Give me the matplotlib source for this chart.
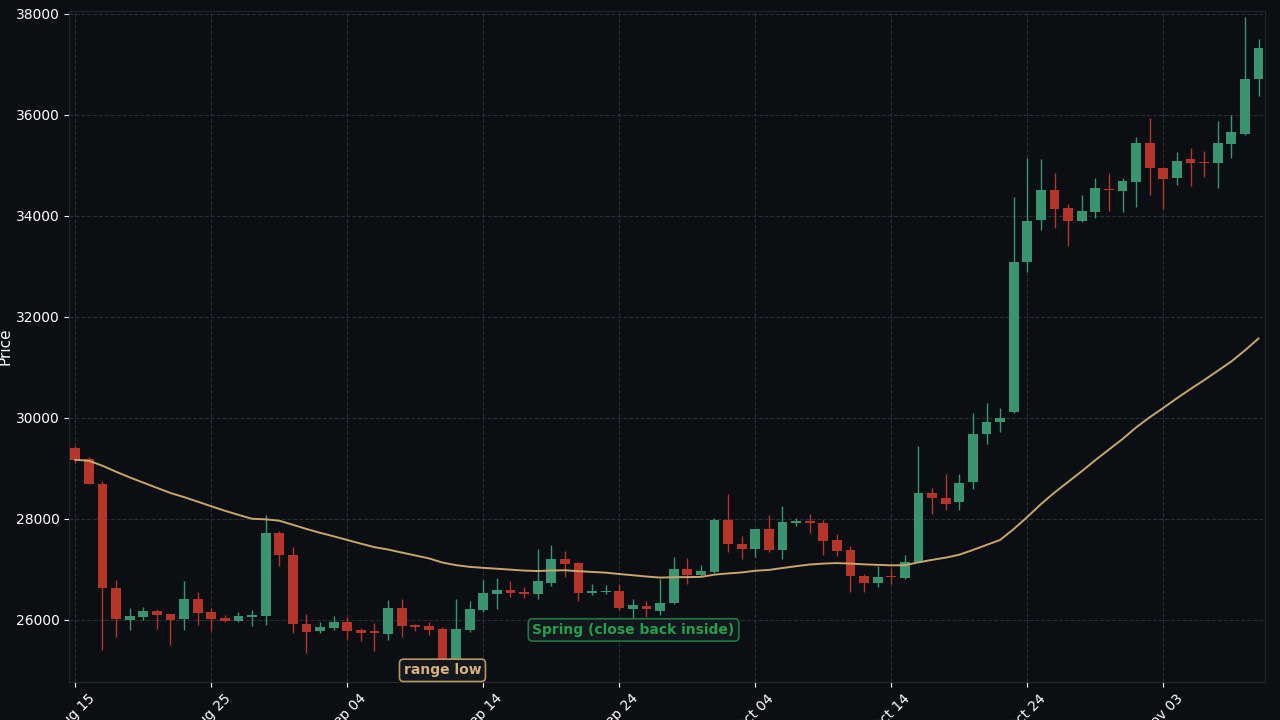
import matplotlib
matplotlib.use("Agg")
import matplotlib.pyplot as plt
import matplotlib.dates as mdates
import pandas as pd
import numpy as np

dates = pd.date_range("2023-08-15", periods=88, freq="D")
opens = [29406,29188,28693,26634,26000,26060,26180,26120,26020,26420,26160,26040,25980,26060,26080,27720,27290,25920,25780,25840,
         25960,25800,25780,25720,26240,25900,25880,25820,25100,25800,26200,26520,26600,26560,26520,26730,27210,27130,26540,26560,
         26580,26220,26280,26180,26340,27010,26890,26950,27980,27500,27410,27800,27390,27920,27960,27920,27580,27390,26870,26730,
         26860,26830,27150,28510,28410,28330,28720,29680,29910,30120,33080,33910,34510,34160,33900,34080,34530,34500,34670,35450,
         34940,34740,35120,35060,35050,35420,35620,36700]
closes = [29168,28693,26634,26020,26080,26180,26100,26000,26420,26140,26020,25980,26080,26100,27720,27290,25920,25760,25860,25960,
          25780,25740,25740,26240,25880,25860,25800,25100,25820,26220,26540,26600,26540,26520,26760,27210,27110,26530,26580,26580,
          26240,26300,26220,26340,27010,26890,26970,27980,27500,27410,27800,27390,27940,27960,27910,27560,27370,26860,26730,26850,
          26840,27150,28510,28410,28300,28710,29680,29920,30000,33090,33900,34510,34140,33900,34100,34550,34510,34680,35450,34940,
          34720,35090,35050,35040,35450,35660,36710,37320]
highs = [29450,29228,28752,26792,26240,26260,26220,26120,26770,26550,26240,26100,26160,26200,28080,27760,27440,26120,25960,26080,
         26060,25840,25940,26400,26420,25920,25960,25860,26420,26380,26780,26830,26760,26640,27400,27490,27370,27150,26710,26690,
         26710,26420,26380,26810,27250,27230,27090,28020,28500,27660,27800,28080,28260,28020,28100,27980,27700,27470,26910,27070,
         27030,27290,29450,28610,28890,28890,30100,30290,30190,34370,35150,35130,34840,34240,34420,34750,34840,34750,35550,35930,
         34940,35260,35350,35290,35880,35990,37930,37500]
lows = [29110,28693,25406,25663,25800,25990,25820,25500,25800,25900,25780,25960,25960,25880,25900,27070,25740,25350,25740,25800,
        25620,25580,25390,25600,25660,25780,25700,24900,24950,25760,26160,26220,26450,26440,26410,26670,26850,26380,26500,26510,
        26200,26040,26060,26100,26320,26710,26870,26930,27350,27210,27250,27350,27210,27860,27720,27290,27270,26550,26560,26650,
        26710,26810,27140,28100,28170,28170,28590,29480,29710,30100,32890,33710,33750,33410,33880,33950,34090,34080,34170,34410,
        34130,34610,34590,34760,34550,35140,35590,36370]

BG = "#0b0e13"
UP = "#3a9470"
DN = "#b5352b"
MA_C = "#c9a66b"

fig = plt.figure(figsize=(12.8, 7.2), dpi=100, facecolor=BG)
ax = fig.add_axes([0.054, 0.053, 0.934, 0.932], facecolor=BG)

x = mdates.date2num(dates)
o = np.array(opens); c = np.array(closes); h = np.array(highs); l = np.array(lows)
colors = np.where(c >= o, UP, DN)
ax.vlines(x, l, h, colors=colors, linewidth=1, zorder=2)
ax.bar(x, np.maximum(np.abs(c - o), 15), bottom=np.minimum(o, c), width=0.72, color=colors, zorder=3)

ma = pd.Series(closes).ewm(span=50, adjust=False).mean()
ax.plot(x, ma, color=MA_C, linewidth=1.4, zorder=4)

ax.set_xlim(x[0] - 0.45, x[-1] + 0.45)
ax.set_ylim(24772, 38058)
ax.set_xticks(x[::10])
ax.xaxis.set_major_formatter(mdates.DateFormatter("%b %d"))
ax.set_yticks(np.arange(26000, 38001, 2000))
for lab in ax.get_xticklabels():
    lab.set_rotation(45)
ax.tick_params(colors="white", labelsize=10)
ax.grid(True, color="#2a2e36", linestyle="--", linewidth=0.8, zorder=0)
for s in ax.spines.values():
    s.set_color("#23272e")
ax.set_ylabel("Price", color="white", fontsize=11, labelpad=8)
ax.yaxis.set_label_coords(-0.047, 0.5)

ax.text(mdates.date2num(pd.Timestamp("2023-09-11")), 25000, "range low", color="#d6b27a",
        fontsize=10, fontweight="bold", ha="center", va="center", zorder=6,
        bbox=dict(boxstyle="round,pad=0.3", fc="#14171d", ec="#b8955e", lw=1.2))
ax.text(mdates.date2num(pd.Timestamp("2023-09-25")) + 0.05, 25800, "Spring (close back inside)", color="#22a04a",
        fontsize=10, fontweight="bold", ha="center", va="center", zorder=6,
        bbox=dict(boxstyle="round,pad=0.3", fc="#14171d", ec="#1f7a40", lw=1.2))

fig.savefig("out.png", dpi=100, facecolor=BG)
